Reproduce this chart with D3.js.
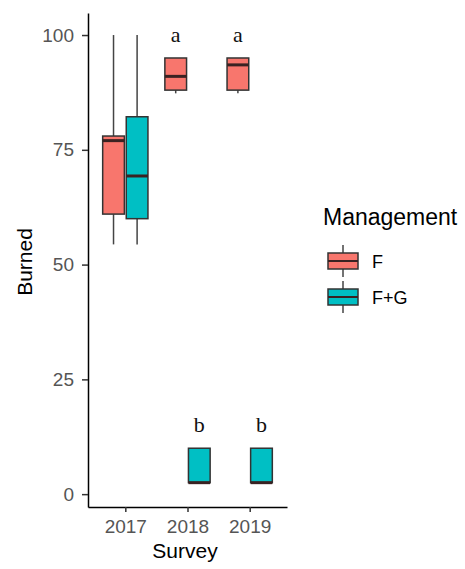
<!DOCTYPE html>
<html>
<head>
<meta charset="utf-8">
<script src="https://cdn.jsdelivr.net/npm/d3@7"></script>
<style>
  body { margin: 0; background: #fff; }
  svg { display: block; font-family: Arial, "Liberation Sans", sans-serif; }
</style>
</head>
<body>
<div id="chart-area"></div>
<script>
// Data
let surveys = ['2017', '2018', '2019'];
let groups = ['F', 'F+G'];
let colors = ['#F8766D', '#00BFC4'];

// box stats per survey: [lower whisker, q1, median, q3, upper whisker]
let statsF = [
  [54.4, 61, 77, 78, 100],
  [87.3, 88, 91, 95, 95],
  [87.3, 88, 93.5, 95, 95]
];
let statsFG = [
  [54.4, 60, 69.3, 82.2, 100],
  [2.5, 2.5, 2.5, 10, 10],
  [2.5, 2.5, 2.5, 10, 10]
];
// significance letters (only 2018, 2019)
let lettersF = ['', 'a', 'a'];
let lettersFG = ['', 'b', 'b'];
let yTicks = [0, 25, 50, 75, 100];

let boxes = [];
surveys.forEach(function(s, i) {
  boxes.push({ survey: s, group: 'F', st: statsF[i], letter: lettersF[i] });
  boxes.push({ survey: s, group: 'F+G', st: statsFG[i], letter: lettersFG[i] });
});

let W = 465, H = 569;
let svg = d3.select('#chart-area').append('svg')
  .attr('width', W).attr('height', H);

// Scales
let x = d3.scalePoint().domain(surveys).range([88, 287]).padding(0.6);
let y = d3.scaleLinear().domain([-2.8, 104.8]).range([507, 13]);
let step = x.step();
let xg = d3.scaleBand().domain(groups)
  .range([-0.364 * step, 0.364 * step]).paddingInner(0.08);
let color = d3.scaleOrdinal().domain(groups).range(colors);

// Boxes
let g = svg.append('g');
let bw = xg.bandwidth();
boxes.forEach(function(d) {
  let cx = x(d.survey) + xg(d.group) + bw / 2;
  let s = d.st;
  g.append('line')
    .attr('x1', cx).attr('x2', cx)
    .attr('y1', y(s[0])).attr('y2', y(s[1]))
    .attr('stroke', '#444').attr('stroke-width', 1.5);
  g.append('line')
    .attr('x1', cx).attr('x2', cx)
    .attr('y1', y(s[3])).attr('y2', y(s[4]))
    .attr('stroke', '#444').attr('stroke-width', 1.5);
  g.append('rect')
    .attr('x', cx - bw / 2).attr('width', bw)
    .attr('y', y(s[3])).attr('height', y(s[1]) - y(s[3]))
    .attr('fill', color(d.group))
    .attr('stroke', '#333').attr('stroke-width', 1.5);
  g.append('line')
    .attr('x1', cx - bw / 2).attr('x2', cx + bw / 2)
    .attr('y1', y(s[2])).attr('y2', y(s[2]))
    .attr('stroke', '#3a2222').attr('stroke-width', 3);
  if (d.letter) {
    g.append('text')
      .attr('x', cx).attr('y', y(s[4] + 3.5))
      .attr('text-anchor', 'middle')
      .style('font-family', '"Liberation Serif", "Times New Roman", serif')
      .style('font-size', '22px')
      .attr('fill', '#111')
      .text(d.letter);
  }
});

// Axes
let yAxis = svg.append('g')
  .attr('transform', 'translate(88,0)')
  .call(d3.axisLeft(y).tickValues(yTicks).tickSize(6).tickSizeOuter(0).tickPadding(8));
let xAxis = svg.append('g')
  .attr('transform', 'translate(0,507)')
  .call(d3.axisBottom(x).tickSize(5).tickSizeOuter(0).tickPadding(8));
[xAxis, yAxis].forEach(function(a) {
  a.select('.domain').attr('stroke', '#000').attr('stroke-width', 1.5);
  a.selectAll('.tick line').attr('stroke', '#333').attr('stroke-width', 1.5);
  a.selectAll('.tick text').attr('fill', '#555').style('font-size', '19px')
    .style('font-family', 'Arial, "Liberation Sans", sans-serif');
});

// Axis titles
svg.append('text')
  .attr('x', 185).attr('y', 558)
  .attr('text-anchor', 'middle')
  .style('font-size', '21px').attr('fill', '#000')
  .text('Survey');
svg.append('text')
  .attr('transform', 'translate(32,262) rotate(-90)')
  .attr('text-anchor', 'middle')
  .style('font-size', '21px').attr('fill', '#000')
  .text('Burned');

// Legend
let legend = svg.append('g').attr('transform', 'translate(323,0)');
legend.append('text')
  .attr('x', 0).attr('y', 225)
  .style('font-size', '23px').attr('fill', '#000')
  .text('Management');
groups.forEach(function(grp, i) {
  let cy = 261 + i * 36;
  let k = legend.append('g').attr('transform', 'translate(0,' + cy + ')');
  k.append('line')
    .attr('x1', 20).attr('x2', 20).attr('y1', -16).attr('y2', 16)
    .attr('stroke', '#444').attr('stroke-width', 1.5);
  k.append('rect')
    .attr('x', 5).attr('y', -8).attr('width', 30).attr('height', 16)
    .attr('fill', color(grp)).attr('stroke', '#333').attr('stroke-width', 1.5);
  k.append('line')
    .attr('x1', 5).attr('x2', 35).attr('y1', 0).attr('y2', 0)
    .attr('stroke', '#3a2222').attr('stroke-width', 2);
  k.append('text')
    .attr('x', 49).attr('y', 7)
    .style('font-size', '18px').attr('fill', '#000')
    .text(grp);
});
</script>
</body>
</html>
